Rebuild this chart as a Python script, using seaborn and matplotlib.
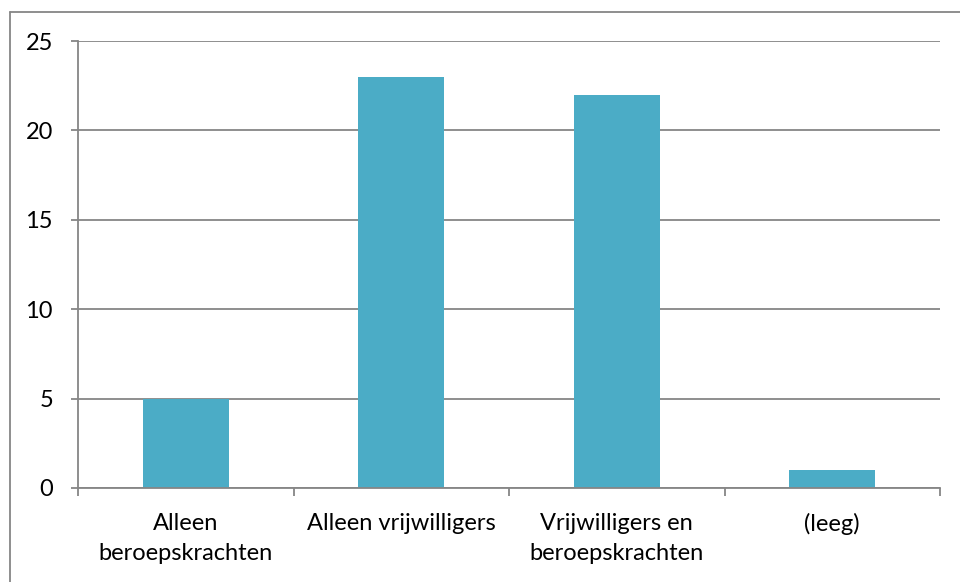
import matplotlib
matplotlib.use("Agg")
import matplotlib.pyplot as plt
from matplotlib.lines import Line2D
import seaborn as sns
import pandas as pd

categories = ["Alleen\nberoepskrachten", "Alleen vrijwilligers", "Vrijwilligers en\nberoepskrachten", "(leeg)"]
values = [5, 23, 22, 1]
yticks = [0, 5, 10, 15, 20, 25]

sns.set_theme(style="white")
plt.rcParams['font.family'] = ['Lato', 'DejaVu Sans']

W, H = 960, 582
fig = plt.figure(figsize=(W / 100, H / 100), dpi=100)
ax = fig.add_axes([78 / W, 1 - 488 / H, (940 - 78) / W, (488 - 41) / H])

df = pd.DataFrame({"cat": categories, "val": values})
grey = "#868686"
sns.barplot(data=df, x="cat", y="val", color="#4BACC6", saturation=1, width=0.4,
            linewidth=0, edgecolor="none", ax=ax)

ax.set_xlim(-0.5, len(categories) - 0.5)
ax.set_ylim(0, 25)
ax.set_yticks(yticks)
ax.set_yticklabels([str(v) for v in yticks])
ax.yaxis.grid(True, color=grey, linewidth=1.3)
ax.set_axisbelow(True)
ax.set_xlabel("")
ax.set_ylabel("")
for s in ["top", "right"]:
    ax.spines[s].set_visible(False)
for s in ["left", "bottom"]:
    ax.spines[s].set_color(grey)
    ax.spines[s].set_linewidth(1.3)

ax.tick_params(axis="y", which="major", length=5, width=1.3, color=grey, pad=13,
               labelsize=17, labelcolor="black", left=True)
ax.set_xticks([i - 0.5 for i in range(len(categories) + 1)], minor=True)
ax.tick_params(axis="x", which="minor", length=6, width=1.3, color=grey, bottom=True)
ax.tick_params(axis="x", which="major", length=0, pad=18, labelsize=17, labelcolor="black")
for lbl in ax.get_xticklabels():
    lbl.set_linespacing(1.5)

# outer chart frame
fig.add_artist(Line2D([9.5 / W, 9.5 / W], [0, 1 - 12 / H], transform=fig.transFigure, color=grey, linewidth=1.3))
fig.add_artist(Line2D([9.5 / W, 1], [1 - 12 / H, 1 - 12 / H], transform=fig.transFigure, color=grey, linewidth=1.3))

fig.savefig("out.png", dpi=100)
